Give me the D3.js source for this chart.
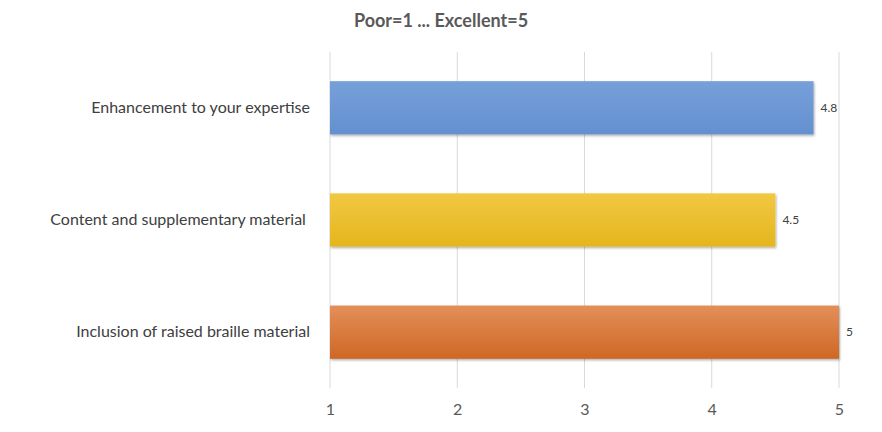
<!DOCTYPE html>
<html><head><meta charset="utf-8">
<script src="https://cdn.jsdelivr.net/npm/d3@7"></script>
<style>body{margin:0;background:#fff}</style></head>
<body><svg id="c" width="882" height="432"></svg>
<script>
const categories = ["Enhancement to your expertise","Content and supplementary material ","Inclusion of raised braille material"];
const values = [4.8, 4.5, 5];
const valueLabels = ["4.8","4.5","5"];
const ticks = [1,2,3,4,5];
const title = "Poor=1 ... Excellent=5";
const colors = [["#76a0d9","#6490d0"],["#f2c842","#e4b51e"],["#e38f5a","#cf6724"]];

const svg = d3.select("#c");
const font = "Lato, 'Open Sans', sans-serif";
const x = d3.scaleLinear().domain([1,5]).range([330,839]);
const y = d3.scaleBand().domain(categories).range([52,388]).paddingInner(0.525).paddingOuter(0.26);

const defs = svg.append("defs");
colors.forEach((c,i)=>{
  const g = defs.append("linearGradient").attr("id","g"+i).attr("x1",0).attr("y1",0).attr("x2",0).attr("y2",1);
  g.append("stop").attr("offset","0%").attr("stop-color",c[0]);
  g.append("stop").attr("offset","100%").attr("stop-color",c[1]);
});
const f = defs.append("filter").attr("id","sh").attr("x","-5%").attr("y","-10%").attr("width","115%").attr("height","130%");
f.append("feDropShadow").attr("dx",1).attr("dy",1.5).attr("stdDeviation",1.2).attr("flood-color","#000").attr("flood-opacity",0.3);

svg.append("text").attr("x",441).attr("y",27).attr("text-anchor","middle")
  .attr("font-family",font).attr("font-size",18).attr("font-weight","bold").attr("fill","#595959").text(title);

svg.append("g").selectAll("line").data(ticks).join("line")
  .attr("x1",d=>x(d)).attr("x2",d=>x(d)).attr("y1",52).attr("y2",388)
  .attr("stroke","#d9d9d9").attr("stroke-width",1);

const xa = svg.append("g").attr("transform","translate(0,388)")
  .call(d3.axisBottom(x).tickValues(ticks).tickFormat(d3.format("d")).tickSize(0).tickPadding(16));
xa.select(".domain").remove();
xa.selectAll("text").attr("font-family",font).attr("font-size",16).attr("fill","#595959");

svg.append("g").selectAll("rect").data(values).join("rect")
  .attr("x",x(1)).attr("y",(d,i)=>y(categories[i])).attr("height",y.bandwidth())
  .attr("width",d=>x(d)-x(1)).attr("fill",(d,i)=>`url(#g${i})`).attr("filter","url(#sh)");

svg.append("g").selectAll("text").data(values).join("text")
  .attr("x",d=>x(d)+7).attr("y",(d,i)=>y(categories[i])+y.bandwidth()/2+4)
  .attr("font-family",font).attr("font-size",12).attr("fill","#404040").text((d,i)=>valueLabels[i]);

svg.append("g").selectAll("text").data(categories).join("text")
  .attr("x",310).attr("y",d=>y(d)+y.bandwidth()/2+5).attr("text-anchor","end")
  .attr("font-family",font).attr("font-size",16).attr("fill","#404040").attr("xml:space","preserve").text(d=>d);
</script></body></html>
